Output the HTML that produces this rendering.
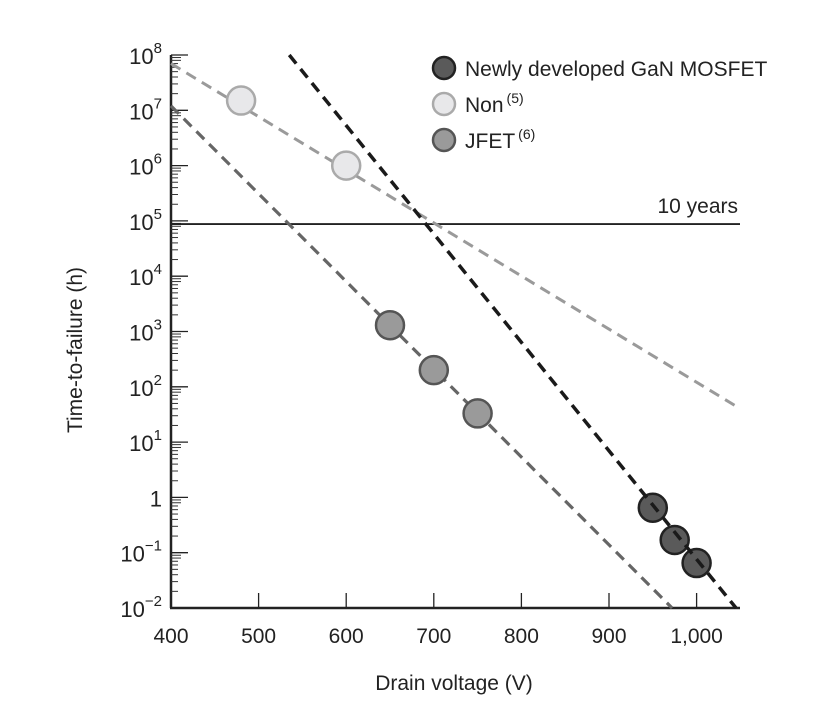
<!DOCTYPE html>
<html><head><meta charset="utf-8"><style>
body{margin:0;background:#fff;}
svg text{font-family:"Liberation Sans",sans-serif;fill:#222;}
</style></head><body>
<svg width="823" height="706" viewBox="0 0 823 706">
<g id="axes"></g><g id="lines"></g><g id="pts"></g>
<text x="72" y="340" font-size="21" text-anchor="middle" transform="rotate(-90 82 340)">Time-to-failure (h)</text>
<text x="454" y="690" font-size="21" text-anchor="middle">Drain voltage (V)</text>
<g>
<circle cx="444" cy="68" r="11" fill="#5a5a5a" stroke="#222" stroke-width="2.5"/>
<text x="465" y="76" font-size="21">Newly developed GaN MOSFET</text>
<circle cx="444" cy="104" r="11" fill="#e8e8ea" stroke="#aaa" stroke-width="2.5"/>
<text x="465" y="112" font-size="21">Non<tspan font-size="14" dy="-9" dx="3">(5)</tspan></text>
<circle cx="444" cy="140" r="11" fill="#9a9a9a" stroke="#555" stroke-width="2.5"/>
<text x="465" y="148" font-size="21">JFET<tspan font-size="14" dy="-9" dx="3">(6)</tspan></text>
</g>
</svg>
<script>
const xTicks=[400,500,600,700,800,900,1000];
const xTickLabels=["400","500","600","700","800","900","1,000"];
const yExps=[8,7,6,5,4,3,2,1,0,-1,-2];
const yTickLabels=["10|8","10|7","10|6","10|5","10|4","10|3","10|2","10|1","1","10|−1","10|−2"];
const nonV=[480,600], nonT=[1.5e7,1e6];
const jfetV=[650,700,750], jfetT=[1300,200,33];
const mosV=[950,975,1000], mosT=[0.65,0.17,0.065];
const mosLineV=[535,1045], mosLineT=[1e8,1e-2];
const nonLineV=[400,1050], nonLineT=[7e7,40];
const jfetLineV=[400,972], jfetLineT=[1.2e7,1e-2];
const tenYears=87600;
const NS="http://www.w3.org/2000/svg";
const X=v=>171+(v-400)*0.876;
const Y=t=>608-(Math.log10(t)+2)*55.3;
function mk(tag,attrs,parent,txt){const e=document.createElementNS(NS,tag);for(const k in attrs)e.setAttribute(k,attrs[k]);if(txt!==undefined)e.textContent=txt;document.getElementById(parent).appendChild(e);return e;}
let e=mk('line',{x1:171,y1:Y(1e8),x2:171,y2:608,stroke:'#222','stroke-width':2.5},'axes');


e=mk('line',{x1:170,y1:608,x2:740,y2:608,stroke:'#222','stroke-width':2.5},'axes');


xTicks.forEach((v,i)=>{
 if(i>0){const t=mk('line',{x1:X(v),y1:608,x2:X(v),y2:593,stroke:'#222','stroke-width':1.3},'axes');
 
 }
 const l=mk('text',{x:X(v),y:643,'font-size':21,'text-anchor':'middle'},'axes',xTickLabels[i]);
 
 
});
yExps.forEach((p,i)=>{
 const y=Y(Math.pow(10,p));
 const t=mk('line',{x1:171,y1:y,x2:188,y2:y,stroke:'#222','stroke-width':1.3},'axes');
 
 
 if(p>-2){for(let m=2;m<=9;m++){const yy=Y(m*Math.pow(10,p-1));mk('line',{x1:171,y1:yy,x2:m>=8?181:178,y2:yy,stroke:'#333','stroke-width':1},'axes');}}
 const parts=yTickLabels[i].split('|');
 const l=mk('text',{x:162,y:y+9,'font-size':22,'text-anchor':'end'},'axes');
 
 
 if(parts.length==1){l.textContent=parts[0];}
 else{l.textContent=parts[0];const s=document.createElementNS(NS,'tspan');s.setAttribute('font-size',15);s.setAttribute('dy',-11);s.textContent=parts[1];l.appendChild(s);}
});
e=mk('line',{x1:171,y1:Y(tenYears),x2:740,y2:Y(tenYears),stroke:'#222','stroke-width':1.8},'lines');


e=mk('text',{x:738,y:Y(tenYears)-11,'font-size':21,'text-anchor':'end'},'lines','10 years');


function dline(V,T,col,w,name){const l=mk('line',{x1:X(V[0]),y1:Y(T[0]),x2:X(V[1]),y2:Y(T[1]),stroke:col,'stroke-width':w,'stroke-dasharray':'11 7'},'lines');
 
 }
dline(nonLineV,nonLineT,'#9a9a9a',3,'non-trend-line');
dline(jfetLineV,jfetLineT,'#666',3.2,'jfet-trend-line');
function pts(V,T,fill,stroke,name){V.forEach((v,i)=>{const c=mk('circle',{cx:X(v),cy:Y(T[i]),r:14,fill:fill,stroke:stroke,'stroke-width':2.5},'pts');
 
 });}
pts(nonV,nonT,'#e8e8ea','#aaa','non-point');
pts(jfetV,jfetT,'#9a9a9a','#555','jfet-point');
pts(mosV,mosT,'#5a5a5a','#222','mosfet-point');
const ml=mk('line',{x1:X(mosLineV[0]),y1:Y(mosLineT[0]),x2:X(mosLineV[1]),y2:Y(mosLineT[1]),stroke:'#1a1a1a','stroke-width':3.5,'stroke-dasharray':'11 7'},'pts');


</script>
</body></html>
